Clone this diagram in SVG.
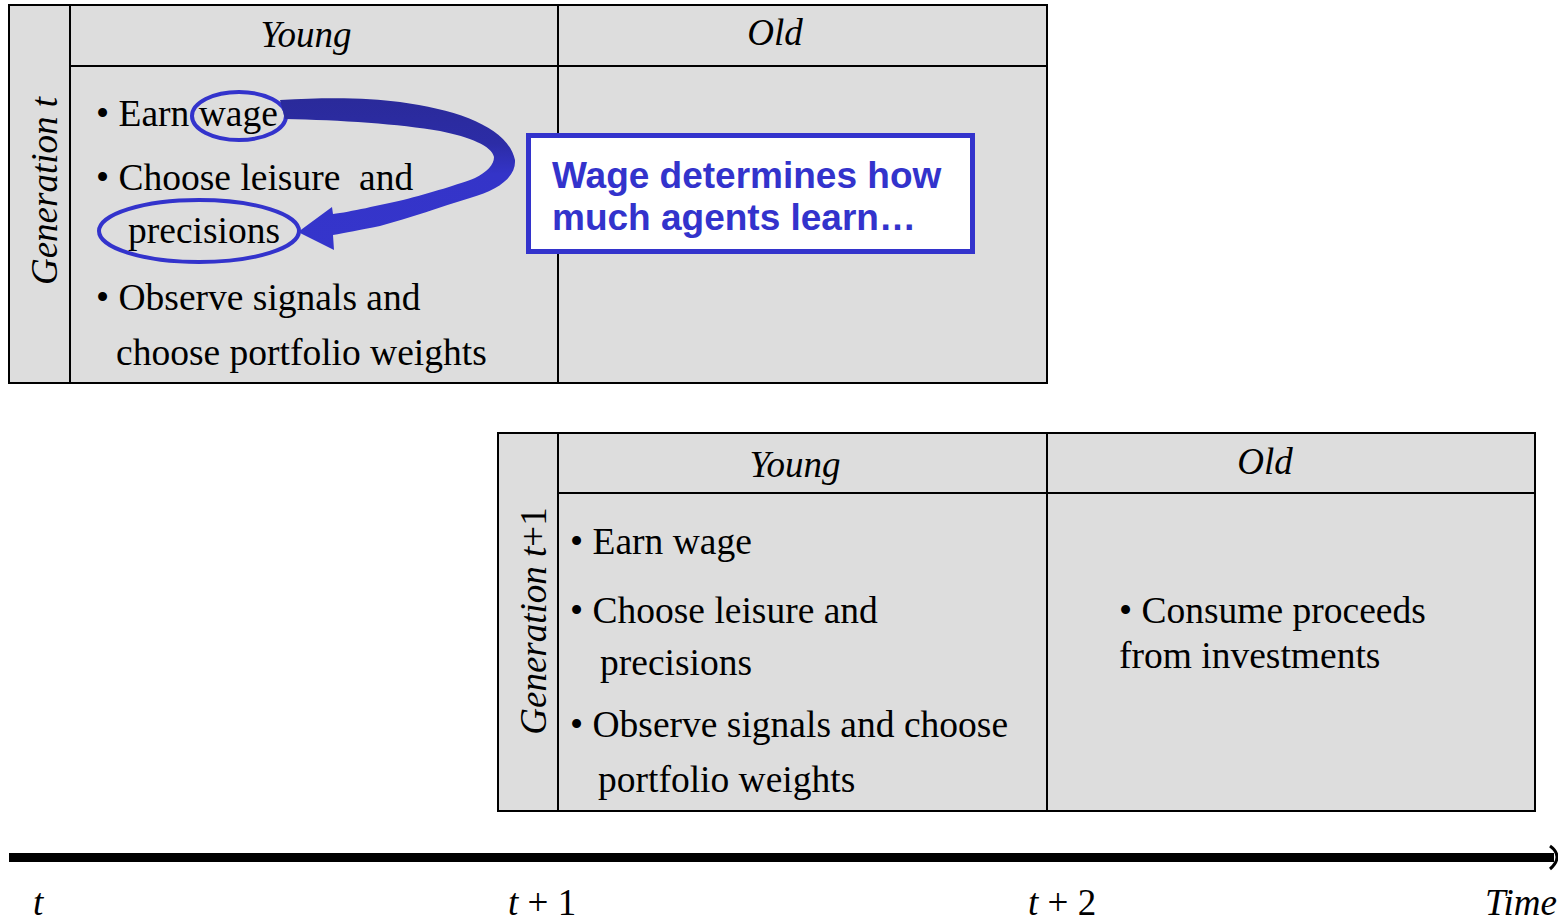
<svg xmlns="http://www.w3.org/2000/svg" width="1558" height="920" viewBox="0 0 1558 920">
  <style>
    .cell { fill: #dddddd; stroke: #000; stroke-width: 2; }
    .rule { stroke: #000; stroke-width: 2; fill: none; }
    .body { font-family: "Liberation Serif", "Times New Roman", serif; font-size: 37.5px; fill: #000; }
    .head { font-family: "Liberation Serif", "Times New Roman", serif; font-size: 37px; font-style: italic; fill: #000; }
    .axis { font-family: "Liberation Serif", "Times New Roman", serif; font-size: 37px; fill: #000; }
    .note { font-family: "Liberation Sans", Arial, sans-serif; font-size: 37px; font-weight: bold; fill: #3333cc; }
    .ring { fill: none; stroke: #3333cc; stroke-width: 4; }
  </style>
  <defs>
    <linearGradient id="bandShade" gradientUnits="userSpaceOnUse" x1="0" y1="98" x2="0" y2="250">
      <stop offset="0" stop-color="#2a2a9a"/>
      <stop offset="0.3" stop-color="#2c2ca6"/>
      <stop offset="0.5" stop-color="#3434c8"/>
      <stop offset="1" stop-color="#3535cc"/>
    </linearGradient>
  </defs>

  <rect width="1558" height="920" fill="#ffffff"/>

  <!-- Generation t table -->
  <g id="gen-t">
    <rect class="cell" x="9" y="5" width="1038" height="378"/>
    <line class="rule" x1="70" y1="5" x2="70" y2="383"/>
    <line class="rule" x1="70" y1="66" x2="1047" y2="66"/>
    <line class="rule" x1="558" y1="5" x2="558" y2="383"/>
    <text class="head" x="306" y="47" text-anchor="middle">Young</text>
    <text class="head" x="775" y="45" text-anchor="middle">Old</text>
    <text class="head" transform="translate(57,191) rotate(-90)" text-anchor="middle">Generation t</text>
    <text class="body" x="96" y="126">• Earn wage</text>
    <text class="body" x="96" y="190" xml:space="preserve">• Choose leisure  and</text>
    <text class="body" x="128" y="243">precisions</text>
    <text class="body" x="96" y="310">• Observe signals and</text>
    <text class="body" x="116" y="365">choose portfolio weights</text>
  </g>

  <!-- Generation t+1 table -->
  <g id="gen-t1">
    <rect class="cell" x="498" y="433" width="1037" height="378"/>
    <line class="rule" x1="558" y1="433" x2="558" y2="811"/>
    <line class="rule" x1="558" y1="493" x2="1535" y2="493"/>
    <line class="rule" x1="1047" y1="433" x2="1047" y2="811"/>
    <text class="head" x="795" y="477" text-anchor="middle">Young</text>
    <text class="head" x="1265" y="474" text-anchor="middle">Old</text>
    <text class="head" transform="translate(546,621) rotate(-90)" text-anchor="middle">Generation t<tspan font-style="normal">+1</tspan></text>
    <text class="body" x="570" y="554">• Earn wage</text>
    <text class="body" x="570" y="623">• Choose leisure and</text>
    <text class="body" x="600" y="675">precisions</text>
    <text class="body" x="570" y="737">• Observe signals and choose</text>
    <text class="body" x="598" y="792">portfolio weights</text>
    <text class="body" x="1119" y="623">• Consume proceeds</text>
    <text class="body" x="1119" y="668">from investments</text>
  </g>

  <!-- Callout -->
  <g id="callout">
    <rect x="528.5" y="135.5" width="444" height="116" fill="#ffffff" stroke="#3333cc" stroke-width="5"/>
    <text class="note" x="552" y="188">Wage determines how</text>
    <text class="note" x="552" y="230">much agents learn…</text>
  </g>

  <!-- Highlights and connectors -->
  <g id="connectors">
    <ellipse class="ring" cx="239" cy="116" rx="47" ry="24"/>
    <ellipse class="ring" cx="199" cy="231" rx="100" ry="31"/>
    <path fill="url(#bandShade)" d="M 280,100 C 330,97 370,98 400,102 C 460,110 508,128 515,160 C 516,176 500,190 470,198 C 440,207 410,218 380,226 C 360,230 345,233 333,235 L 334,250 L 298,232 L 332,207 L 333,214 C 350,212 380,205 403,200 C 430,193 460,184 475,178 C 487,172 494,165 494,157 C 492,146 470,137 440,131 C 400,124 340,120 285,119 Z"/>

    <!-- time axis -->
    <line x1="9" y1="857.5" x2="1554" y2="857.5" stroke="#000" stroke-width="9"/>
    <path d="M 1550,846 Q 1557,851 1557,857 Q 1557,863 1550,869" fill="none" stroke="#000" stroke-width="3"/>
  </g>

  <g id="axis-labels">
    <text class="axis" x="33" y="915" font-style="italic">t</text>
    <text class="axis" x="508" y="915"><tspan font-style="italic">t</tspan> + 1</text>
    <text class="axis" x="1028" y="915"><tspan font-style="italic">t</tspan> + 2</text>
    <text class="axis" x="1485" y="915" font-style="italic">Time</text>
  </g>
</svg>
